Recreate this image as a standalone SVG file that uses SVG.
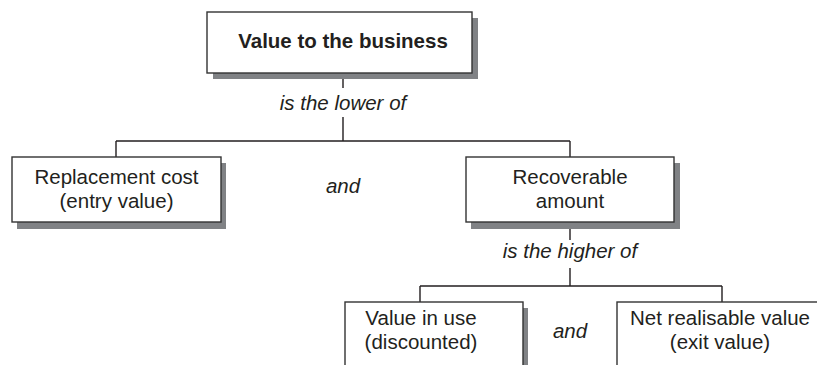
<svg xmlns="http://www.w3.org/2000/svg" width="817" height="365" viewBox="0 0 817 365">
<defs>
<style>
.box{fill:#ffffff;stroke:#333333;stroke-width:1.4}
.shadow{fill:#808285;stroke:none}
.txt{font-family:"Liberation Sans",Arial,sans-serif;font-size:20.5px;fill:#231f20;text-anchor:middle}
.bold{font-weight:bold}
.it{font-style:italic}
.conn{fill:none;stroke:#231f20;stroke-width:1.4}
</style>
</defs>
<rect width="817" height="365" fill="#ffffff"/>
<g id="connectors">
<path class="conn" d="M343 72 V88 M343 117 V141 M116 141 H570 M116 141 V157 M570 141 V157"/>
<path class="conn" d="M570 228 V240 M570 268 V286 M420 286 H722 M420 286 V302 M722 286 V302"/>
</g>
<g id="value-to-business">
<rect class="shadow" x="213" y="18" width="265" height="61"/>
<rect class="box" x="207" y="12" width="265" height="61"/>
<text class="txt bold" x="343" y="48">Value to the business</text>
</g>
<g id="lower-label">
<text class="txt it" x="343" y="110">is the lower of</text>
</g>
<g id="replacement-cost">
<rect class="shadow" x="17" y="163" width="209" height="66"/>
<rect class="box" x="12" y="157" width="209" height="65"/>
<text class="txt" x="116.5" y="184">Replacement cost</text>
<text class="txt" x="116.5" y="208">(entry value)</text>
</g>
<g id="and-1">
<text class="txt it" x="343" y="193">and</text>
</g>
<g id="recoverable-amount">
<rect class="shadow" x="471" y="163" width="209" height="66"/>
<rect class="box" x="466" y="157" width="208" height="65"/>
<text class="txt" x="570" y="184">Recoverable</text>
<text class="txt" x="570" y="208">amount</text>
</g>
<g id="higher-label">
<text class="txt it" x="570" y="258">is the higher of</text>
</g>
<g id="value-in-use">
<rect class="shadow" x="350" y="308" width="178" height="70"/>
<rect class="box" x="345" y="302" width="178" height="70"/>
<text class="txt" x="421" y="325">Value in use</text>
<text class="txt" x="421" y="349">(discounted)</text>
</g>
<g id="and-2">
<text class="txt it" x="570" y="338">and</text>
</g>
<g id="net-realisable-value">
<rect class="shadow" x="623" y="308" width="210" height="70"/>
<rect class="box" x="617" y="302" width="210" height="70"/>
<text class="txt" x="720" y="325">Net realisable value</text>
<text class="txt" x="720" y="349">(exit value)</text>
</g>
</svg>
